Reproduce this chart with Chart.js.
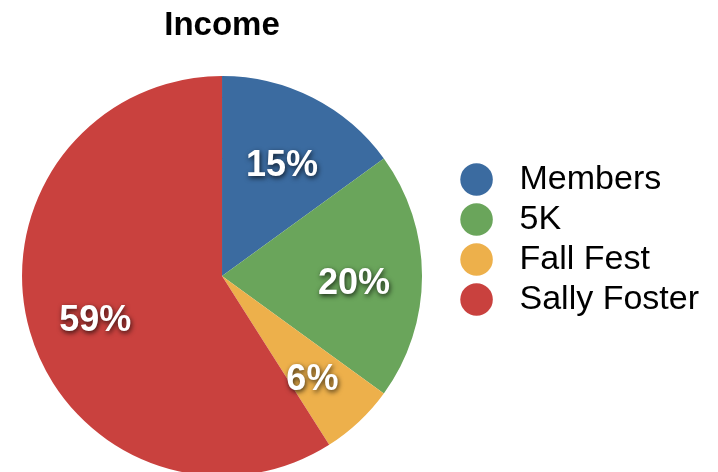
<!DOCTYPE html>
<html>
<head>
<meta charset="utf-8">
<script src="https://cdn.jsdelivr.net/npm/chart.js@4"></script>
<style>
  html, body { margin: 0; padding: 0; background: #fff; overflow: hidden; }
  /* canvas a bit larger than the window so the pie can run off the left/bottom like the original */
  canvas { display: block; margin-left: -10px; }
</style>
</head>
<body>
<canvas id="incomeChart" width="728" height="480"></canvas>
<script>
// data
var categories = ['Members', '5K', 'Fall Fest', 'Sally Foster'];
var shares = [15, 20, 6, 59];
var sliceColors = ['#3b6ba0', '#6aa55b', '#edb04b', '#c9413e'];

// white percent labels with a dark drop shadow
var sliceLabels = {
  id: 'sliceLabels',
  afterDatasetsDraw: function(chart) {
    var ctx = chart.ctx;
    var meta = chart.getDatasetMeta(0);
    ctx.save();
    ctx.font = 'bold 36px "Liberation Sans", Arial, sans-serif';
    ctx.fillStyle = '#fff';
    ctx.textAlign = 'center';
    ctx.textBaseline = 'middle';
    ctx.shadowColor = 'rgba(0,0,0,0.75)';
    ctx.shadowBlur = 5;
    ctx.shadowOffsetX = 1;
    ctx.shadowOffsetY = 2;
    meta.data.forEach(function(arc, i) {
      var p = arc.getProps(['x', 'y', 'startAngle', 'endAngle', 'outerRadius'], true);
      var mid = (p.startAngle + p.endAngle) / 2;
      var r = p.outerRadius * 0.66;
      ctx.fillText(shares[i] + '%', p.x + Math.cos(mid) * r, p.y + Math.sin(mid) * r + 8);
    });
    ctx.restore();
  }
};

var ctx = document.getElementById('incomeChart').getContext('2d');
var incomeChart = new Chart(ctx, {
  type: 'pie',
  data: {
    labels: categories,
    datasets: [{
      data: shares,
      backgroundColor: sliceColors,
      borderWidth: 0
    }]
  },
  options: {
    responsive: false,
    animation: false,
    radius: 200,
    layout: {
      padding: { left: 0, right: 9, bottom: 4.5 }
    },
    plugins: {
      title: {
        display: true,
        text: 'Income',
        fullSize: false,
        color: '#000',
        font: { family: '"Liberation Sans", Arial, sans-serif', size: 33, weight: 'bold' },
        padding: { top: 6, bottom: 30.9 }
      },
      legend: {
        position: 'right',
        align: 'start',
        title: {
          display: true,
          text: ' ',
          padding: { top: 142, bottom: 0 }
        },
        labels: {
          usePointStyle: true,
          pointStyle: 'circle',
          boxWidth: 33,
          boxHeight: 23,
          padding: 6,
          color: '#000',
          font: { family: '"Liberation Sans", Arial, sans-serif', size: 34 },
          generateLabels: function(chart) {
            return categories.map(function(name, i) {
              return {
                text: ' ' + name,
                fillStyle: sliceColors[i],
                strokeStyle: sliceColors[i],
                fontColor: '#000',
                lineWidth: 0,
                pointStyle: 'circle',
                hidden: false,
                index: i
              };
            });
          }
        }
      },
      tooltip: { enabled: false }
    }
  },
  plugins: [sliceLabels]
});
</script>
</body>
</html>
